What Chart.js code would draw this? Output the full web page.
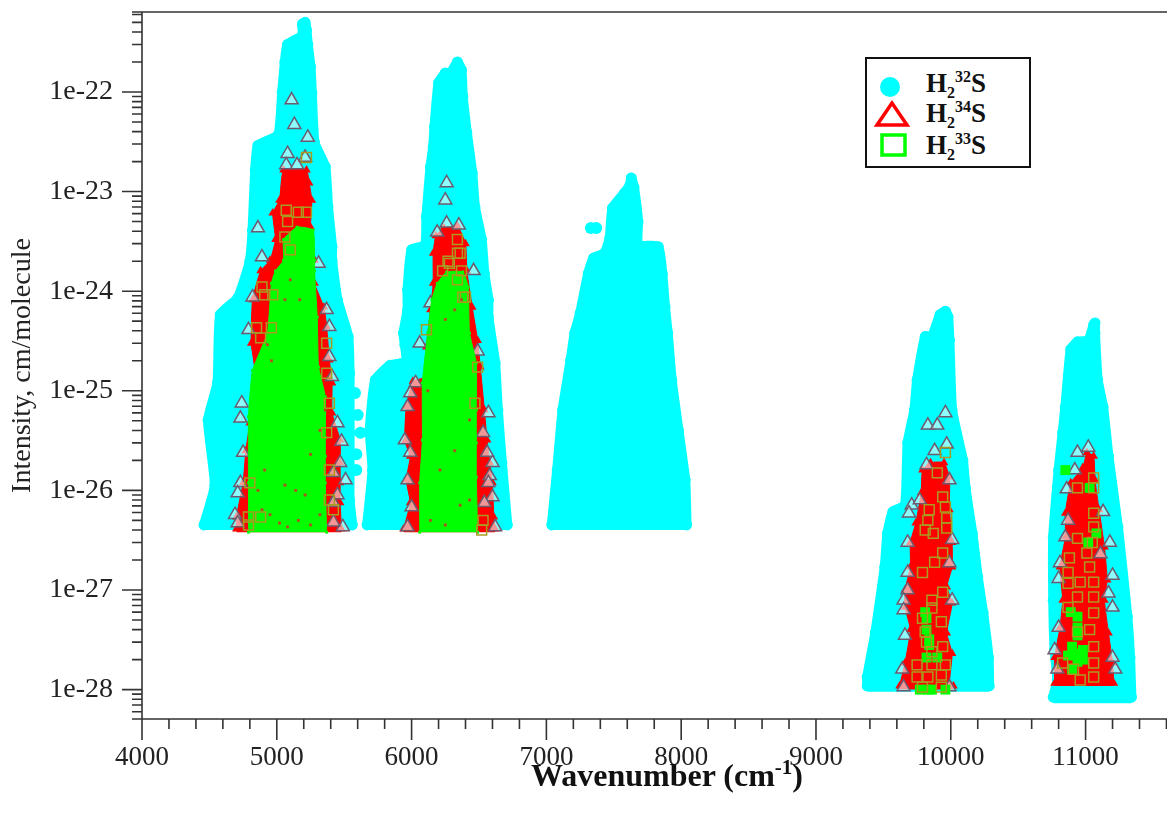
<!DOCTYPE html>
<html>
<head>
<meta charset="utf-8">
<title>H2S line intensities</title>
<script src="https://cdn.jsdelivr.net/npm/chart.js@4"></script>
<style>
  html, body { margin: 0; padding: 0; background: #fff; }
  body { width: 1167px; height: 818px; position: relative; overflow: hidden; font-family: "Liberation Serif", serif; color: #111; }
  #chartBox { position: absolute; left: 0; top: 0; width: 1167px; height: 818px; }
  #xTitle { position: absolute; left: 531px; top: 757px; font-size: 32px; font-weight: bold; white-space: nowrap; }
  #xTitle sup { font-size: 21px; line-height: 0; }
  #legendBox { position: absolute; left: 865px; top: 57px; width: 162px; height: 107px; border: 2px solid #111; background: #fff; }
  #legendBox svg { position: absolute; left: 0; top: 0; }
  .legText { position: absolute; left: 59px; font-size: 27px; font-weight: bold; line-height: 28px; white-space: nowrap; }
  .legText sub, .legText sup { font-size: 16px; line-height: 0; }
</style>
</head>
<body>
<div id="chartBox"><canvas id="grafik" width="1167" height="818"></canvas></div>
<div id="xTitle">Wavenumber (cm<sup>-1</sup>)</div>
<div id="legendBox">
  <svg width="162" height="107">
    <circle cx="23" cy="28" r="10" fill="#00ffff"/>
    <polygon points="25,44 10,66 40,66" fill="none" stroke="#ff0000" stroke-width="3.5"/>
    <rect x="15" y="76" width="23" height="20" fill="none" stroke="#00ff00" stroke-width="3.5"/>
  </svg>
  <div class="legText" style="top:10px">H<sub>2</sub><sup>32</sup>S</div>
  <div class="legText" style="top:40px">H<sub>2</sub><sup>34</sup>S</div>
  <div class="legText" style="top:72px">H<sub>2</sub><sup>33</sup>S</div>
</div>
<script>
// axis ticks
const xMajorTicks = [4000, 5000, 6000, 7000, 8000, 9000, 10000, 11000];
const xTickLabels = ["4000", "5000", "6000", "7000", "8000", "9000", "10000", "11000"];
const xMinorStep = 200;
const yMajorTicks = [1e-22, 1e-23, 1e-24, 1e-25, 1e-26, 1e-27, 1e-28];
const yTickLabels = ["1e-22", "1e-23", "1e-24", "1e-25", "1e-26", "1e-27", "1e-28"];
const yMinorMant = [2, 3, 4, 5, 6, 7, 8, 9];
const yMinorExp = [-29, -28, -27, -26, -25, -24, -23, -22];

// H2-32S, outline of each band, wavenumber and intensity
const s32Band1Wn = [4460, 4540, 4490, 4560, 4580, 4710, 4800, 4820, 4840, 4860, 5010, 5040, 5060, 5080, 5190, 5190, 5210, 5220, 5230, 5250, 5260, 5280, 5360, 5380, 5410, 5410, 5450, 5530, 5540, 5540, 5540, 5540, 5540, 5560];
const s32Band1I = [4.5e-27, 1.13e-26, 5.1e-26, 1.2e-25, 5.8e-25, 8.5e-25, 2.0e-24, 4.1e-24, 1.65e-23, 2.9e-23, 3.7e-23, 1e-22, 2e-22, 3.0e-22, 3.7e-22, 4.8e-22, 5.0e-22, 4.2e-22, 3.0e-22, 1.8e-22, 9.8e-23, 3.1e-23, 1.77e-23, 7e-24, 2.8e-24, 2.05e-24, 8.2e-25, 3.5e-25, 1.5e-25, 9.5e-26, 3.8e-26, 1.6e-26, 8e-27, 4.5e-27];
const s32Band2Wn = [5670, 5710, 5690, 5730, 5840, 5960, 5950, 5940, 5970, 5970, 6000, 6100, 6110, 6140, 6160, 6170, 6200, 6250, 6290, 6340, 6370, 6380, 6410, 6450, 6470, 6520, 6540, 6570, 6570, 6620, 6640, 6670, 6710];
const s32Band2I = [4.5e-27, 1.6e-26, 4.0e-26, 1.28e-25, 1.8e-25, 1.95e-25, 2.9e-25, 3.8e-25, 6.5e-25, 1.03e-24, 2.6e-24, 2.9e-24, 5.6e-24, 1.77e-23, 2.8e-23, 4.5e-23, 1.23e-22, 1.55e-22, 1.55e-22, 2e-22, 1.66e-22, 8.9e-23, 3.9e-23, 1.54e-23, 7e-24, 3.3e-24, 1.5e-24, 8.2e-25, 5.5e-25, 1.9e-25, 6.4e-26, 1.9e-26, 4.5e-27];
const s32Band3Wn = [7040, 7080, 7120, 7180, 7210, 7250, 7310, 7350, 7430, 7470, 7490, 7580, 7620, 7630, 7650, 7680, 7680, 7830, 7860, 7880, 7900, 7930, 7980, 8030, 8040];
const s32Band3I = [4.5e-27, 1.6e-26, 6.4e-26, 2.04e-25, 3.8e-25, 6e-25, 1.5e-24, 2.15e-24, 2.4e-24, 3.4e-24, 6.8e-24, 9.7e-24, 1.16e-23, 1.37e-23, 1.1e-23, 5e-24, 2.9e-24, 2.8e-24, 1.5e-24, 6.9e-25, 3.8e-25, 1.28e-25, 4.0e-26, 1.27e-26, 4.5e-27];
const s32Band4Wn = [9380, 9380, 9440, 9510, 9530, 9570, 9660, 9680, 9730, 9750, 9810, 9860, 9920, 9960, 9980, 9990, 10010, 10090, 10110, 10160, 10200, 10240, 10280, 10285];
const s32Band4I = [1.09e-28, 1.34e-28, 3.7e-28, 1.7e-27, 3.7e-27, 6.1e-27, 7.1e-27, 3e-26, 6.4e-26, 1.28e-25, 3.5e-25, 3.5e-25, 5.8e-25, 6.3e-25, 5.5e-25, 3.2e-25, 6.4e-26, 2e-26, 1.03e-26, 3.7e-27, 1.35e-27, 5.9e-28, 2.1e-28, 1.09e-28];
const s32Band5Wn = [10760, 10790, 10770, 10760, 10760, 10800, 10830, 10850, 10890, 10940, 11020, 11060, 11070, 11070, 11090, 11130, 11170, 11240, 11310, 11330, 11340];
const s32Band5I = [8.4e-29, 1.25e-28, 2.5e-28, 7.9e-28, 3.4e-27, 1.6e-26, 3.8e-26, 6.9e-26, 2.6e-25, 3.1e-25, 3.2e-25, 4.6e-25, 4.8e-25, 3.8e-25, 1.28e-25, 6.9e-26, 2.2e-26, 4.3e-27, 5.4e-28, 2.1e-28, 8.4e-29];
const s32ExtraWn = [5580, 5600, 5620, 5590, 5590, 7330, 7370];
const s32ExtraI = [9.5e-26, 5.7e-26, 3.8e-26, 2.3e-26, 1.6e-26, 4.3e-24, 4.3e-24];

// H2-34S, outline of the dense part
const s34Band1Wn = [4700, 4700, 4750, 4770, 4800, 4840, 4810, 4820, 4880, 4950, 4990, 4970, 5020, 5050, 5220, 5240, 5260, 5250, 5280, 5280, 5350, 5370, 5390, 5410, 5410, 5470, 5470, 5470, 5470, 5480];
const s34Band1I = [4.1e-27, 5.4e-27, 1.19e-26, 2.5e-26, 4.75e-26, 1.5e-25, 3e-25, 8.2e-25, 1.6e-24, 2.05e-24, 3.3e-24, 6.1e-24, 8.2e-24, 1.65e-23, 1.65e-23, 1.22e-23, 8.2e-24, 4.4e-24, 2.05e-24, 1.2e-24, 6.9e-25, 4.4e-25, 2.04e-25, 1.2e-25, 6e-26, 3.2e-26, 1.9e-26, 1.19e-26, 7.5e-27, 4.1e-27];
const s34Band2Wn = [5940, 5990, 5960, 5990, 5950, 5960, 6010, 6110, 6110, 6140, 6160, 6160, 6180, 6240, 6340, 6400, 6410, 6450, 6490, 6510, 6540, 6560, 6580, 6600, 6610, 6620];
const s34Band2I = [4.1e-27, 7.5e-27, 1.27e-26, 2.2e-26, 3.1e-26, 6.9e-26, 1.25e-25, 1.38e-25, 2.75e-25, 6.5e-25, 1.2e-24, 2.4e-24, 3.6e-24, 4.3e-24, 4.5e-24, 3e-24, 1.6e-24, 6.9e-25, 3.2e-25, 1.73e-25, 6.4e-26, 3.2e-26, 1.9e-26, 1.19e-26, 5.4e-27, 4.1e-27];
const s34Band4Wn = [9620, 9660, 9700, 9660, 9660, 9700, 9700, 9740, 9780, 9790, 9850, 9950, 9990, 9990, 10010, 10010, 9970, 10010, 9970, 10010, 9990, 10020];
const s34Band4I = [1.09e-28, 1.85e-28, 4e-28, 6.7e-28, 1e-27, 1.7e-27, 3e-27, 4.7e-27, 9.4e-27, 1.6e-26, 1.9e-26, 1.9e-26, 1.36e-26, 6.4e-27, 3e-27, 1.7e-27, 1.07e-27, 7.4e-28, 3.7e-28, 2.3e-28, 1.16e-28, 1.09e-28];
const s34Band5Wn = [10770, 10770, 10810, 10830, 10810, 10850, 10850, 10890, 10980, 11010, 11060, 11070, 11100, 11140, 11160, 11140, 11170, 11200, 11210];
const s34Band5I = [1.16e-28, 2.1e-28, 4.2e-28, 7.9e-28, 1.7e-27, 3.4e-27, 5.9e-27, 1.19e-26, 1.7e-26, 2.4e-26, 2.2e-26, 1.27e-26, 6.4e-27, 2.7e-27, 1.26e-27, 7.9e-28, 3.7e-28, 1.85e-28, 1.16e-28];

// H2-34S, single triangles that stand out
const s34PointsWn = [5110, 5130, 5230, 5080, 5210, 5070, 5150, 4860, 4890, 4740, 4730, 4820, 4790, 4750, 4730, 4710, 4690, 4710, 5490, 5420, 5510, 5470, 5450, 5480, 5450, 5390, 5370, 5390, 5410, 5420, 5420, 5310,
  6460, 6060, 6490, 6030, 5990, 5970, 5950, 5990, 5970, 6000, 5970, 6600, 6580, 6570, 6560, 6600, 6620, 6540, 6530, 6570, 6140, 6260, 6250, 6260, 6190, 6350,
  9960, 9830, 9900, 9880, 9970, 9820, 9710, 9690, 9680, 9680, 9650, 9650, 9660, 9640, 9650, 9990, 10010, 9990, 10010, 9990, 9770, 9680,
  10940, 11020, 10920, 10860, 11130, 10870, 10850, 11180, 11200, 10810, 10800, 11170, 11200, 10800, 10770, 11220, 11200, 10790, 11110];
const s34PointsI = [8.3e-23, 4.7e-23, 3.5e-23, 2.4e-23, 2.2e-23, 1.85e-23, 1.85e-23, 4.3e-24, 2.2e-24, 7.5e-26, 5.3e-26, 8.7e-25, 4.1e-25, 2.4e-26, 1.19e-26, 9.4e-27, 5.7e-27, 4.7e-27, 4.3e-27, 4.8e-27, 1.27e-26, 1.9e-26, 9e-27, 3.1e-26, 4.75e-26, 4.4e-25, 6.5e-25, 2.2e-25, 1.38e-25, 1.5e-26, 7.5e-27, 1.9e-24,
  1.6e-24, 3e-25, 2.5e-25, 1.2e-25, 9.5e-26, 6.9e-26, 3.2e-26, 2.4e-26, 1.27e-26, 6.8e-27, 4.3e-27, 1.9e-26, 1.4e-26, 1.19e-26, 2.4e-26, 8.6e-27, 4.3e-27, 7.5e-27, 3.8e-26, 6e-26, 7.6e-25, 1.22e-23, 8.2e-24, 4.8e-24, 3.9e-24, 4.6e-24,
  6e-26, 4.5e-26, 4.5e-26, 2.5e-26, 2.9e-26, 1.8e-26, 7.1e-27, 5.9e-27, 3e-27, 1e-27, 7.9e-28, 6.3e-28, 3.5e-28, 1.6e-28, 1.06e-28, 1.06e-28, 7.9e-28, 1.87e-27, 3.2e-27, 1.27e-26, 8e-27, 1.5e-27,
  2.4e-26, 2.7e-26, 1.6e-26, 1.03e-26, 6.1e-27, 5e-27, 3.4e-27, 3e-27, 1.4e-27, 1.87e-27, 1.3e-27, 9.3e-28, 6.7e-28, 4.2e-28, 2.5e-28, 1.6e-28, 2.1e-28, 1.6e-28, 2.3e-27];

// H2-33S, outline of the solid part
const s33Band1Wn = [4790, 4790, 4790, 4820, 4930, 4960, 4990, 5050, 5050, 5150, 5270, 5280, 5280, 5300, 5310, 5360, 5360, 5360, 5360, 5370];
const s33Band1I = [3.8e-27, 1.19e-26, 5.5e-26, 1.6e-25, 3.8e-25, 1.2e-24, 1.6e-24, 2.05e-24, 3.3e-24, 4.4e-24, 4.1e-24, 2.05e-24, 1.6e-24, 5.5e-25, 1.73e-25, 8.7e-26, 3.4e-26, 2.2e-26, 1.19e-26, 3.8e-27];
const s33Band2Wn = [6060, 6060, 6080, 6080, 6120, 6150, 6190, 6260, 6380, 6420, 6430, 6480, 6480, 6480, 6480, 6490];
const s33Band2I = [3.8e-27, 1.19e-26, 3.2e-26, 1.2e-25, 3.8e-25, 8.2e-25, 1.2e-24, 1.56e-24, 1.56e-24, 1.1e-24, 3.8e-25, 1.9e-25, 6.4e-26, 3e-26, 1.36e-26, 3.8e-27];

// H2-33S, single squares
const s33PointsWn = [5220, 5070, 5160, 5220, 5080, 5060, 5100, 4890, 4910, 4970, 4850, 4880, 4960, 5370, 5370, 5390, 5370, 5390, 5390, 5420, 4790, 4790, 4880, 4800,
  6340, 6340, 6270, 6230, 6370, 6340, 6380, 6110, 6280, 6360, 6400, 6530, 6520, 6470, 6490,
  9960, 9900, 9940, 9960, 9970, 9840, 9830, 9810, 9870, 9970, 9940, 9880, 9790, 9940, 9860, 9860, 9790, 9930, 9810, 9820, 9940, 9860, 9750, 9860, 9960, 9750, 9830, 9930, 9790, 9930,
  10940, 11060, 11060, 11060, 11060, 10940, 11050, 10880, 11010, 11030, 10870, 10870, 10960, 11060, 11060, 10940, 10870, 11060, 10940, 11030, 11060, 10830, 10910, 11060, 11060, 10960];
const s33PointsI = [2.2e-23, 6.5e-24, 6.2e-24, 6.2e-24, 5e-24, 3.5e-24, 2.6e-24, 1.1e-24, 9.2e-25, 9.2e-25, 4.3e-25, 3.4e-25, 4.3e-25, 3e-25, 1.5e-25, 7.5e-26, 3.8e-26, 1.6e-26, 8e-27, 6.4e-27, 5.4e-27, 4.5e-27, 5.4e-27, 1.19e-26,
  3.3e-24, 2.4e-24, 2e-24, 1.6e-24, 1.6e-24, 1.3e-24, 8.7e-25, 4.1e-25, 1.9e-24, 2.4e-24, 8.7e-25, 5e-27, 4e-27, 7.5e-26, 1.73e-25,
  2.4e-26, 1.5e-26, 8.6e-27, 6.8e-27, 5.3e-27, 6.4e-27, 5e-27, 4e-27, 3.7e-27, 4.2e-27, 2.35e-27, 1.9e-27, 1.5e-27, 9.5e-28, 7.9e-28, 6.6e-28, 5.2e-28, 4.8e-28, 3.8e-28, 3e-28, 2.7e-28, 2.4e-28, 1.77e-28, 1.77e-28, 1.77e-28, 1.34e-28, 1.34e-28, 1.4e-28, 1.06e-28, 1.06e-28,
  1.06e-26, 1.33e-26, 1.06e-26, 5.9e-27, 4.3e-27, 3.3e-27, 3e-27, 2.1e-27, 2.35e-27, 1.7e-27, 1.5e-27, 1.17e-27, 1.2e-27, 1.2e-27, 8.5e-28, 8.5e-28, 6.7e-28, 5.9e-28, 3.8e-28, 4e-28, 2.7e-28, 1.85e-28, 1.6e-28, 1.85e-28, 1.34e-28, 1.25e-28];

// green patches in the two weak bands
const s33PatchWn = [10940, 10940, 10890, 10940, 10940, 10870, 11080, 11020, 10940, 10900, 10980, 10980, 10900, 10850, 11030, 9820, 9820, 9820, 9900, 9770, 9830, 9840, 9860, 9960, 9810, 9840];
const s33PatchI = [5.4e-28, 4.2e-28, 6e-28, 2.3e-28, 1.9e-28, 2.2e-28, 3.7e-27, 3e-27, 3.5e-28, 2.7e-28, 2.5e-28, 2e-28, 1.6e-28, 1.6e-26, 1.06e-26, 4e-28, 5.2e-28, 2.1e-28, 2.1e-28, 1e-28, 1e-28, 2.8e-28, 1e-28, 1e-28, 6e-28, 3.2e-28];

// small red gaps left inside the green
const gapWn = [4890, 4950, 5020, 5080, 5160, 5250, 5320, 5060, 5140, 5210, 4860, 4910, 5250, 5320, 5170, 5100, 5060, 5360, 4930, 4960, 6140, 6250, 6360, 6430, 6210, 6320, 6430, 6120, 6250, 6320, 6370];
const gapI = [6.4e-27, 5.7e-27, 4.7e-27, 4.3e-27, 5e-27, 4.5e-27, 5.7e-27, 1.13e-26, 1e-26, 9e-27, 1e-26, 1.6e-26, 2.3e-26, 4e-26, 8.2e-25, 1.3e-24, 8.2e-25, 6.4e-26, 2.9e-25, 2e-25, 5e-27, 4.5e-27, 7.1e-27, 8e-27, 1.6e-26, 2.5e-26, 5.1e-26, 1e-25, 5.2e-25, 6.5e-25, 8.2e-25];

const serif = "'Liberation Serif', serif";
const axisColor = "#333";

function xy(xs, ys) {
  return xs.map((x, i) => ({ x: x, y: ys[i] }));
}

// filled outline of a band, down to floor
function band(xs, ys, floor, color, lineW, pStyle, pRad) {
  return {
    data: xy(xs, ys), showLine: true, fill: { value: floor },
    backgroundColor: color, borderColor: color, borderWidth: lineW,
    borderJoinStyle: "round", borderCapStyle: "round", tension: 0.15,
    pointStyle: pStyle, pointRadius: pRad, pointBackgroundColor: color, pointBorderColor: color, pointBorderWidth: 0
  };
}

function marks(xs, ys, pStyle, pRad, fillC, lineC, lineW) {
  return {
    data: xy(xs, ys), showLine: false, pointStyle: pStyle, pointRadius: pRad,
    pointBackgroundColor: fillC, pointBorderColor: lineC, pointBorderWidth: lineW
  };
}

// keep tick labels from pushing the plot area in
function noPadding(s) {
  s.paddingLeft = 0; s.paddingRight = 0; s.paddingTop = 0; s.paddingBottom = 0;
}

const cyan = "#00ffff", red = "#ff0000", green = "#00ff00";
let dataSets = [
  band(s32Band1Wn, s32Band1I, 4e-27, cyan, 10, "circle", 5.5),
  band(s32Band2Wn, s32Band2I, 4e-27, cyan, 10, "circle", 5.5),
  band(s32Band3Wn, s32Band3I, 4e-27, cyan, 10, "circle", 5.5),
  band(s32Band4Wn, s32Band4I, 9.5e-29, cyan, 10, "circle", 5.5),
  band(s32Band5Wn, s32Band5I, 7.3e-29, cyan, 10, "circle", 5.5),
  marks(s32ExtraWn, s32ExtraI, "circle", 6, cyan, cyan, 0),
  band(s34Band1Wn, s34Band1I, 3.8e-27, red, 1, "triangle", 5),
  band(s34Band2Wn, s34Band2I, 3.8e-27, red, 1, "triangle", 5),
  band(s34Band4Wn, s34Band4I, 1e-28, red, 1, "triangle", 5),
  band(s34Band5Wn, s34Band5I, 1.09e-28, red, 1, "triangle", 5),
  marks(s34PointsWn, s34PointsI, "triangle", 7.5, "rgba(235,250,250,0.6)", "#6e5a6e", 1.5),
  band(s33Band1Wn, s33Band1I, 3.8e-27, green, 1, "rect", 2),
  band(s33Band2Wn, s33Band2I, 3.8e-27, green, 1, "rect", 2),
  marks(s33PatchWn, s33PatchI, "rect", 7, green, green, 0),
  marks(s33PointsWn, s33PointsI, "rect", 7, "rgba(0,0,0,0)", "#a89c20", 1.5),
  marks(gapWn, gapI, "rect", 2, "#b05020", "#b05020", 0)
];
// first dataset goes at the bottom
dataSets.forEach((d, i) => { d.order = dataSets.length - i; });

// long and short tick marks and the axis lines
const axisPlugin = {
  id: "axisLines",
  afterDraw(c) {
    const ctx = c.ctx, xs = c.scales.x, ys = c.scales.y, a = c.chartArea;
    ctx.save();
    ctx.strokeStyle = axisColor;
    ctx.lineWidth = 1.6;
    ctx.beginPath();
    ctx.moveTo(a.left, a.top); ctx.lineTo(a.left, a.bottom + 21);
    ctx.moveTo(a.left, a.bottom); ctx.lineTo(a.right, a.bottom);
    ctx.moveTo(a.left - 10, a.top); ctx.lineTo(a.right, a.top);
    xMajorTicks.forEach(v => {
      const p = xs.getPixelForValue(v);
      ctx.moveTo(p, a.bottom); ctx.lineTo(p, a.bottom + 21);
    });
    for (let v = xMajorTicks[0]; v <= xs.max; v += xMinorStep) {
      if (xMajorTicks.includes(v)) continue;
      const p = xs.getPixelForValue(v);
      ctx.moveTo(p, a.bottom); ctx.lineTo(p, a.bottom + 10);
    }
    yMajorTicks.forEach(v => {
      const p = ys.getPixelForValue(v);
      ctx.moveTo(a.left - 20, p); ctx.lineTo(a.left, p);
    });
    yMinorExp.forEach(e => {
      yMinorMant.forEach(m => {
        const v = m * Math.pow(10, e);
        if (v < ys.min || v > ys.max) return;
        const p = ys.getPixelForValue(v);
        ctx.moveTo(a.left - 10, p); ctx.lineTo(a.left, p);
      });
    });
    ctx.moveTo(a.left - 10, a.bottom); ctx.lineTo(a.left, a.bottom);
    ctx.stroke();
    ctx.restore();
  }
};

const ctx = document.getElementById("grafik").getContext("2d");
const chart = new Chart(ctx, {
  type: "scatter",
  data: { datasets: dataSets },
  plugins: [axisPlugin],
  options: {
    responsive: false,
    animation: false,
    events: [],
    layout: { autoPadding: false, padding: { top: 12, left: 0, right: 0, bottom: 0 } },
    plugins: { legend: { display: false }, tooltip: { enabled: false } },
    scales: {
      x: {
        type: "linear", min: 4000, max: 11604,
        afterFit(s) { s.height = 99; noPadding(s); },
        afterBuildTicks(s) { s.ticks = xMajorTicks.map(v => ({ value: v })); },
        grid: { display: false, drawTicks: false },
        border: { display: false },
        ticks: {
          callback: (v, i) => xTickLabels[i],
          font: { family: serif, size: 27 }, color: "#222",
          padding: 23, autoSkip: false, maxRotation: 0
        }
      },
      y: {
        type: "logarithmic", min: 5.07e-29, max: 6.35e-22,
        afterFit(s) { s.width = 142; noPadding(s); },
        afterBuildTicks(s) { s.ticks = yMajorTicks.map(v => ({ value: v })); },
        grid: { display: false, drawTicks: false },
        border: { display: false },
        title: {
          display: true, text: "Intensity, cm/molecule",
          font: { family: serif, size: 28 }, color: "#222", padding: { top: 6, bottom: 0 }
        },
        ticks: {
          callback: (v, i) => yTickLabels[i],
          font: { family: serif, size: 28 }, color: "#222",
          padding: 29, autoSkip: false
        }
      }
    }
  }
});
</script>
</body>
</html>
